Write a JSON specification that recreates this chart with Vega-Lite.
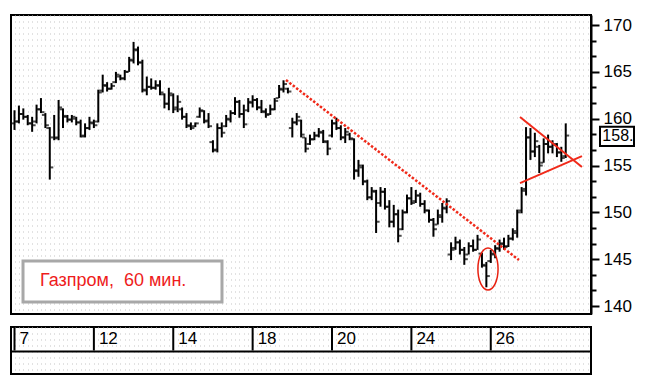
{
  "$schema": "https://vega.github.io/schema/vega-lite/v6.json",
  "padding": {"left": 10, "top": 14, "right": 0, "bottom": 0},
  "background": "white",
  "spacing": 9,
  "config": {"view": {"stroke": "black", "strokeWidth": 2}, "font": "Liberation Sans"},
  "datasets": {
    "bars": [
      {"t":0,"o":159.5,"h":160.9,"l":158.8,"c":159.7},
      {"t":1,"o":159.7,"h":161.4,"l":159.5,"c":160.5},
      {"t":2,"o":160.5,"h":161.1,"l":159.9,"c":160.2},
      {"t":3,"o":160.2,"h":160.4,"l":159.3,"c":159.5},
      {"t":4,"o":159.5,"h":160.2,"l":158.6,"c":159.3},
      {"t":5,"o":159.7,"h":161.5,"l":159.5,"c":161.0},
      {"t":6,"o":161.0,"h":162.2,"l":160.6,"c":160.7},
      {"t":7,"o":160.4,"h":160.6,"l":159.0,"c":159.3},
      {"t":8,"o":159.0,"h":159.1,"l":153.5,"c":154.8},
      {"t":9,"o":158.0,"h":160.4,"l":157.7,"c":157.9},
      {"t":10,"o":158.0,"h":162.0,"l":157.7,"c":161.2},
      {"t":11,"o":161.0,"h":161.1,"l":159.0,"c":160.3},
      {"t":12,"o":160.2,"h":160.4,"l":159.6,"c":159.9},
      {"t":13,"o":159.9,"h":160.4,"l":159.6,"c":160.2},
      {"t":14,"o":160.0,"h":160.2,"l":159.3,"c":159.6},
      {"t":15,"o":159.6,"h":159.9,"l":158.0,"c":158.1},
      {"t":16,"o":158.2,"h":159.5,"l":158.0,"c":159.0},
      {"t":17,"o":159.0,"h":160.2,"l":158.8,"c":159.6},
      {"t":18,"o":159.5,"h":159.9,"l":159.0,"c":159.3},
      {"t":19,"o":159.7,"h":163.1,"l":159.6,"c":162.8},
      {"t":20,"o":163.0,"h":164.7,"l":162.8,"c":163.6},
      {"t":21,"o":163.5,"h":163.9,"l":162.9,"c":163.2},
      {"t":22,"o":163.2,"h":163.8,"l":163.1,"c":163.5},
      {"t":23,"o":163.9,"h":165.0,"l":163.8,"c":164.7},
      {"t":24,"o":164.5,"h":164.7,"l":164.1,"c":164.3},
      {"t":25,"o":164.3,"h":165.2,"l":164.1,"c":165.0},
      {"t":26,"o":165.0,"h":166.6,"l":165.0,"c":166.3},
      {"t":27,"o":166.2,"h":168.2,"l":165.9,"c":167.4},
      {"t":28,"o":167.3,"h":167.7,"l":165.7,"c":166.0},
      {"t":29,"o":166.0,"h":166.3,"l":162.8,"c":163.1},
      {"t":30,"o":163.0,"h":164.5,"l":162.5,"c":163.4},
      {"t":31,"o":163.4,"h":164.3,"l":163.1,"c":163.3},
      {"t":32,"o":163.3,"h":164.1,"l":163.1,"c":163.6},
      {"t":33,"o":163.5,"h":164.1,"l":162.5,"c":162.8},
      {"t":34,"o":162.6,"h":162.7,"l":161.1,"c":161.6},
      {"t":35,"o":161.6,"h":163.3,"l":160.9,"c":162.7},
      {"t":36,"o":162.5,"h":162.7,"l":160.6,"c":161.0},
      {"t":37,"o":161.2,"h":162.5,"l":160.7,"c":161.8},
      {"t":38,"o":161.0,"h":161.2,"l":159.9,"c":160.2},
      {"t":39,"o":160.2,"h":160.6,"l":159.0,"c":159.3},
      {"t":40,"o":159.2,"h":159.6,"l":158.8,"c":159.0},
      {"t":41,"o":159.2,"h":159.6,"l":159.1,"c":159.5},
      {"t":42,"o":160.2,"h":161.2,"l":160.1,"c":160.9},
      {"t":43,"o":160.8,"h":160.9,"l":159.5,"c":159.7},
      {"t":44,"o":159.8,"h":160.6,"l":159.0,"c":159.2},
      {"t":45,"o":157.5,"h":157.7,"l":156.4,"c":156.6},
      {"t":46,"o":156.7,"h":159.5,"l":156.4,"c":159.0},
      {"t":47,"o":159.0,"h":159.6,"l":158.0,"c":158.5},
      {"t":48,"o":159.2,"h":160.4,"l":159.1,"c":160.0},
      {"t":49,"o":159.9,"h":160.9,"l":159.6,"c":160.6},
      {"t":50,"o":160.6,"h":162.3,"l":160.4,"c":161.8},
      {"t":51,"o":161.8,"h":162.0,"l":160.1,"c":160.5},
      {"t":52,"o":160.5,"h":161.5,"l":159.0,"c":159.4},
      {"t":53,"o":160.9,"h":162.2,"l":160.7,"c":161.8},
      {"t":54,"o":161.7,"h":162.5,"l":161.2,"c":162.0},
      {"t":55,"o":162.0,"h":162.2,"l":160.9,"c":161.2},
      {"t":56,"o":161.2,"h":162.0,"l":160.6,"c":160.8},
      {"t":57,"o":160.7,"h":161.1,"l":160.1,"c":160.4},
      {"t":58,"o":160.5,"h":161.5,"l":160.4,"c":161.0},
      {"t":59,"o":161.0,"h":162.2,"l":160.9,"c":161.9},
      {"t":60,"o":162.2,"h":163.6,"l":162.2,"c":163.2},
      {"t":61,"o":163.1,"h":164.1,"l":162.8,"c":163.7},
      {"t":62,"o":163.2,"h":163.3,"l":162.7,"c":162.9},
      {"t":63,"o":159.0,"h":160.1,"l":158.0,"c":159.6},
      {"t":64,"o":159.6,"h":160.6,"l":159.3,"c":160.2},
      {"t":65,"o":159.8,"h":159.9,"l":158.0,"c":158.3},
      {"t":66,"o":158.0,"h":158.0,"l":156.4,"c":156.8},
      {"t":67,"o":157.3,"h":158.3,"l":157.2,"c":157.8},
      {"t":68,"o":157.8,"h":158.6,"l":157.7,"c":158.2},
      {"t":69,"o":158.2,"h":159.0,"l":158.0,"c":158.6},
      {"t":70,"o":158.5,"h":158.8,"l":157.4,"c":157.6},
      {"t":71,"o":157.5,"h":157.7,"l":156.1,"c":156.8},
      {"t":72,"o":158.2,"h":159.9,"l":158.0,"c":159.5},
      {"t":73,"o":159.5,"h":160.1,"l":158.8,"c":159.0},
      {"t":74,"o":159.0,"h":159.3,"l":157.7,"c":158.0},
      {"t":75,"o":158.0,"h":159.0,"l":157.4,"c":158.6},
      {"t":76,"o":158.3,"h":158.5,"l":157.7,"c":157.9},
      {"t":77,"o":157.8,"h":157.9,"l":153.5,"c":154.5},
      {"t":78,"o":154.4,"h":155.6,"l":153.8,"c":155.0},
      {"t":79,"o":154.8,"h":155.1,"l":152.9,"c":153.3},
      {"t":80,"o":153.3,"h":153.5,"l":151.3,"c":151.6},
      {"t":81,"o":151.6,"h":152.7,"l":151.3,"c":152.3},
      {"t":82,"o":152.2,"h":152.4,"l":147.8,"c":149.0},
      {"t":83,"o":151.0,"h":152.7,"l":150.6,"c":152.2},
      {"t":84,"o":152.2,"h":152.6,"l":150.3,"c":150.6},
      {"t":85,"o":150.6,"h":151.3,"l":148.4,"c":149.0},
      {"t":86,"o":149.0,"h":150.8,"l":148.4,"c":149.8},
      {"t":87,"o":149.8,"h":150.3,"l":146.8,"c":147.5},
      {"t":88,"o":148.2,"h":150.3,"l":148.1,"c":150.0},
      {"t":89,"o":150.0,"h":151.9,"l":149.9,"c":151.5},
      {"t":90,"o":151.5,"h":152.7,"l":150.8,"c":151.0},
      {"t":91,"o":151.2,"h":152.4,"l":151.0,"c":151.8},
      {"t":92,"o":151.8,"h":152.1,"l":150.6,"c":150.9},
      {"t":93,"o":150.9,"h":151.3,"l":149.9,"c":150.2},
      {"t":94,"o":150.2,"h":150.3,"l":148.9,"c":149.2},
      {"t":95,"o":149.2,"h":149.4,"l":147.4,"c":148.2},
      {"t":96,"o":148.7,"h":150.3,"l":148.7,"c":149.7},
      {"t":97,"o":149.5,"h":151.0,"l":148.9,"c":150.5},
      {"t":98,"o":150.4,"h":151.5,"l":149.9,"c":151.2},
      {"t":99,"o":145.5,"h":146.8,"l":144.9,"c":146.0},
      {"t":100,"o":146.2,"h":147.4,"l":146.0,"c":146.8},
      {"t":101,"o":146.8,"h":147.1,"l":145.5,"c":146.0},
      {"t":102,"o":146.0,"h":146.3,"l":144.4,"c":145.0},
      {"t":103,"o":145.5,"h":146.8,"l":145.5,"c":146.4},
      {"t":104,"o":146.4,"h":147.1,"l":145.8,"c":146.0},
      {"t":105,"o":146.0,"h":147.6,"l":146.0,"c":147.1},
      {"t":106,"o":145.6,"h":145.7,"l":144.1,"c":144.4},
      {"t":107,"o":144.3,"h":144.7,"l":142.0,"c":143.2},
      {"t":108,"o":144.8,"h":146.0,"l":144.6,"c":145.6},
      {"t":109,"o":145.5,"h":146.5,"l":145.1,"c":146.2},
      {"t":110,"o":146.1,"h":147.1,"l":145.8,"c":146.7},
      {"t":111,"o":146.6,"h":147.3,"l":146.0,"c":146.3},
      {"t":112,"o":146.4,"h":147.6,"l":146.3,"c":147.2},
      {"t":113,"o":147.2,"h":148.3,"l":147.0,"c":148.0},
      {"t":114,"o":147.8,"h":150.3,"l":147.3,"c":150.0},
      {"t":115,"o":150.2,"h":152.7,"l":149.9,"c":152.3},
      {"t":116,"o":152.5,"h":159.1,"l":151.8,"c":158.0},
      {"t":117,"o":158.0,"h":159.0,"l":155.6,"c":156.5},
      {"t":118,"o":156.5,"h":158.5,"l":155.9,"c":157.6},
      {"t":119,"o":157.0,"h":157.2,"l":154.2,"c":155.0},
      {"t":120,"o":155.3,"h":157.9,"l":155.3,"c":157.3},
      {"t":121,"o":157.3,"h":158.3,"l":156.3,"c":157.0},
      {"t":122,"o":157.0,"h":157.7,"l":156.3,"c":157.3},
      {"t":123,"o":157.2,"h":157.4,"l":155.9,"c":156.4},
      {"t":124,"o":156.4,"h":157.0,"l":155.4,"c":155.8},
      {"t":125,"o":156.0,"h":159.5,"l":155.8,"c":158.2}
    ],
    "trend": [
      {"g":"down","t":61.56,"p":164.13},
      {"g":"down","t":114.40,"p":144.91}
    ],
    "triangle": [
      {"g":"up","t":114.63,"p":160.18},
      {"g":"up","t":128.68,"p":154.84},
      {"g":"lo","t":114.63,"p":153.13},
      {"g":"lo","t":128.68,"p":156.01}
    ],
    "ellipse": [{"t":107.37,"p":143.95}],
    "notes": [
      {"label":"Газпром,\u00a0 60 мин.","t":1.93,"t2":47.05,"p":144.81,"p2":140.43,"tt":5.78,"pt":142.14}
    ],
    "last": [
      {"label":"158.","t":132.77,"t2":140.48,"p":159.15,"p2":157.08,"tt":133.3,"pt":158.1}
    ],
    "days": [
      {"t":0,"d":"7"},
      {"t":18,"d":"12"},
      {"t":36,"d":"14"},
      {"t":54,"d":"18"},
      {"t":72,"d":"20"},
      {"t":90,"d":"24"},
      {"t":108,"d":"26"}
    ]
  },
  "vconcat": [
    {
      "width": 580,
      "height": 299,
      "resolve": {"axis": {"y": "independent"}},
      "layer": [
        {
          "data": {"name": "notes"},
          "mark": {"type": "rect", "fill": "white", "stroke": "#a8a8a8", "strokeWidth": 3},
          "encoding": {
            "x": {"field": "t", "type": "quantitative", "scale": {"domain": [-0.794, 130.73], "nice": false, "zero": false},
                  "axis": {"grid": true, "gridDash": [1, 5], "gridColor": "#c4c4c4", "labels": false, "ticks": false, "domain": false, "tickCount": 130, "title": null}},
            "x2": {"field": "t2"},
            "y": {"field": "p", "type": "quantitative", "scale": {"domain": [139.15, 171.07], "nice": false, "zero": false}, "axis": null},
            "y2": {"field": "p2"}
          }
        },
        {
          "data": {"name": "notes"},
          "mark": {"type": "text", "align": "left", "baseline": "alphabetic", "font": "Liberation Sans", "fontSize": 18, "color": "#ee1c1c"},
          "encoding": {
            "x": {"field": "tt", "type": "quantitative"},
            "y": {"field": "pt", "type": "quantitative", "axis": null},
            "text": {"field": "label"}
          }
        },
        {
          "data": {"name": "bars"},
          "mark": {"type": "rule", "color": "black", "strokeWidth": 2},
          "encoding": {
            "x": {"field": "t", "type": "quantitative"},
            "y": {"field": "l", "type": "quantitative",
                  "axis": {"orient": "right", "title": null, "grid": false,
                           "values": [140, 145, 150, 155, 160, 165, 170],
                           "domainColor": "black", "domainWidth": 2, "tickColor": "black", "tickWidth": 2, "tickSize": 8,
                           "format": "d",
                           "labelFont": "Liberation Sans", "labelFontSize": 17, "labelColor": "black", "labelPadding": 4, "labelBaseline": "middle", "labelAlign": "left"}},
            "y2": {"field": "h"}
          }
        },
        {
          "data": {"name": "bars"},
          "mark": {"type": "tick", "orient": "horizontal", "color": "black", "size": 3, "thickness": 2, "xOffset": -2},
          "encoding": {
            "x": {"field": "t", "type": "quantitative"},
            "y": {"field": "o", "type": "quantitative",
                  "axis": {"orient": "right", "title": null, "grid": false,
                           "values": [141.6667, 143.3333, 146.6667, 148.3333, 151.6667, 153.3333, 156.6667, 158.3333, 161.6667, 163.3333, 166.6667, 168.3333],
                           "domain": false, "tickColor": "black", "tickWidth": 2, "tickSize": 5, "labels": false}}
          }
        },
        {
          "data": {"name": "bars"},
          "mark": {"type": "tick", "orient": "horizontal", "color": "black", "size": 3, "thickness": 2, "xOffset": 2},
          "encoding": {
            "x": {"field": "t", "type": "quantitative"},
            "y": {"field": "c", "type": "quantitative", "axis": null}
          }
        },
        {
          "data": {"name": "trend"},
          "mark": {"type": "line", "color": "#f02a1a", "strokeWidth": 2.5, "strokeDash": [2.5, 1.8]},
          "encoding": {
            "x": {"field": "t", "type": "quantitative"},
            "y": {"field": "p", "type": "quantitative", "axis": null},
            "detail": {"field": "g"}
          }
        },
        {
          "data": {"name": "triangle"},
          "mark": {"type": "line", "color": "#f02a1a", "strokeWidth": 2},
          "encoding": {
            "x": {"field": "t", "type": "quantitative"},
            "y": {"field": "p", "type": "quantitative", "axis": null},
            "detail": {"field": "g"}
          }
        },
        {
          "data": {"name": "ellipse"},
          "mark": {"type": "point", "shape": "M0,-1 A0.48,1 0 1,1 0,1 A0.48,1 0 1,1 0,-1", "filled": false, "stroke": "#e82010", "strokeWidth": 1.5, "size": 1764, "opacity": 1},
          "encoding": {
            "x": {"field": "t", "type": "quantitative"},
            "y": {"field": "p", "type": "quantitative", "axis": null}
          }
        },
        {
          "data": {"name": "last"},
          "mark": {"type": "rect", "fill": "white", "stroke": "black", "strokeWidth": 2},
          "encoding": {
            "x": {"field": "t", "type": "quantitative"},
            "x2": {"field": "t2"},
            "y": {"field": "p", "type": "quantitative", "axis": null},
            "y2": {"field": "p2"}
          }
        },
        {
          "data": {"name": "last"},
          "mark": {"type": "text", "align": "left", "baseline": "middle", "font": "Liberation Sans", "fontSize": 16, "color": "black"},
          "encoding": {
            "x": {"field": "tt", "type": "quantitative"},
            "y": {"field": "pt", "type": "quantitative", "axis": null},
            "text": {"field": "label"}
          }
        }
      ]
    },
    {
      "width": 580,
      "height": 47,
      "data": {"name": "days"},
      "layer": [
        {
          "mark": {"type": "rule", "color": "black", "strokeWidth": 2},
          "encoding": {
            "x": {"field": "t", "type": "quantitative", "scale": {"domain": [-0.794, 130.73], "nice": false, "zero": false},
                  "axis": {"grid": true, "gridDash": [1, 5], "gridColor": "#c4c4c4", "labels": false, "ticks": false, "domain": false, "tickCount": 130, "title": null}},
            "y": {"datum": 1, "type": "quantitative", "scale": {"domain": [0, 2], "nice": false, "zero": false},
                  "axis": {"values": [1], "grid": true, "gridColor": "black", "gridWidth": 2, "labels": false, "ticks": false, "domain": false, "title": null}},
            "y2": {"datum": 2}
          }
        },
        {
          "mark": {"type": "text", "align": "left", "baseline": "middle", "dx": 5, "font": "Liberation Sans", "fontSize": 17, "color": "black"},
          "encoding": {
            "x": {"field": "t", "type": "quantitative"},
            "y": {"datum": 1.5, "type": "quantitative"},
            "text": {"field": "d"}
          }
        }
      ]
    }
  ]
}
